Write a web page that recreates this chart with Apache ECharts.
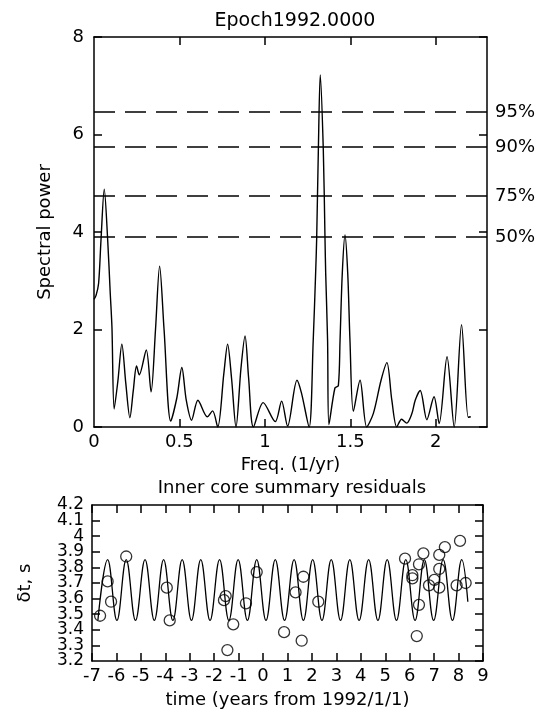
<!DOCTYPE html>
<html>
<head>
<meta charset="utf-8">
<script src="https://cdn.jsdelivr.net/npm/echarts@6/dist/echarts.min.js"></script>
<style>
html,body{margin:0;padding:0;background:#fff;}
#chart{width:544px;height:713px;}
</style>
</head>
<body>
<div id="chart"></div>
<script>
// ---- Top panel: spectral power vs frequency ----
const freqs = [0.000,0.012,0.027,0.041,0.060,0.080,0.095,0.105,0.118,0.140,0.163,0.186,0.210,0.230,0.249,0.265,0.306,0.334,0.360,0.384,0.410,0.449,0.485,0.514,0.540,0.571,0.608,0.663,0.694,0.724,0.760,0.782,0.805,0.831,0.860,0.884,0.905,0.933,0.990,1.061,1.098,1.133,1.188,1.214,1.259,1.283,1.297,1.303,1.313,1.324,1.342,1.352,1.356,1.367,1.375,1.410,1.430,1.440,1.453,1.469,1.485,1.498,1.518,1.557,1.596,1.635,1.680,1.714,1.743,1.772,1.800,1.830,1.860,1.880,1.909,1.948,1.990,2.020,2.066,2.108,2.151,2.190,2.205];
const power = [2.62,2.70,2.95,3.84,4.88,3.84,2.75,2.05,0.37,0.95,1.70,0.90,0.19,0.75,1.25,1.07,1.58,0.72,2.00,3.30,2.00,0.12,0.60,1.22,0.55,0.14,0.55,0.21,0.33,0.00,1.10,1.70,1.00,0.00,1.20,1.87,1.00,0.00,0.50,0.11,0.53,0.02,0.96,0.70,0.00,1.78,3.15,3.84,5.68,7.22,5.68,3.84,3.15,1.78,0.05,0.80,0.85,1.78,3.15,3.94,3.15,1.78,0.32,0.96,0.00,0.28,0.96,1.32,0.55,0.00,0.16,0.08,0.27,0.55,0.75,0.15,0.62,0.07,1.44,0.00,2.10,0.20,0.21];
const sigLevels = [6.46, 5.74, 4.74, 3.90];
const sigLabels = ['95%', '90%', '75%', '50%'];
const freqTicks = [0, 0.5, 1, 1.5, 2];

// ---- Bottom panel: residuals and fitted oscillation ----
const sineTimes = [-6.76,-6.36,-5.98,-5.60,-5.22,-4.83,-4.45,-4.07,-3.69,-3.31,-2.93,-2.55,-2.17,-1.78,-1.40,-1.02,-0.64,-0.26,0.12,0.50,0.88,1.27,1.65,2.03,2.41,2.79,3.17,3.55,3.93,4.32,4.70,5.08,5.46,5.84,6.22,6.60,6.98,7.37,7.75,8.13,8.38];
const sineValues = [3.46,3.85,3.46,3.85,3.46,3.85,3.46,3.85,3.46,3.85,3.46,3.85,3.46,3.85,3.46,3.85,3.46,3.85,3.46,3.85,3.46,3.85,3.46,3.85,3.46,3.85,3.46,3.85,3.46,3.85,3.46,3.85,3.46,3.85,3.46,3.85,3.46,3.85,3.46,3.85,3.58];
const obsTimes = [-6.67,-6.36,-6.22,-5.60,-3.94,-3.82,-1.53,-1.60,-1.22,-1.46,-0.70,-0.26,0.86,1.33,1.65,1.58,2.26,5.81,6.11,6.11,6.38,6.56,6.38,6.29,6.79,7.01,7.21,7.21,7.21,7.44,8.06,7.92,8.29];
const obsValues = [3.49,3.71,3.58,3.87,3.67,3.46,3.616,3.59,3.435,3.27,3.57,3.77,3.385,3.64,3.74,3.33,3.58,3.856,3.75,3.73,3.82,3.89,3.56,3.36,3.685,3.72,3.88,3.79,3.67,3.93,3.97,3.685,3.70];
const residEnds = [3.2, 4.2];

const FONT = 'DejaVu Sans';
const BLACK = '#000';

function zip(a, b) { return a.map((v, i) => [v, b[i]]); }

const chart = echarts.init(document.getElementById('chart'), null, {renderer: 'canvas'});

const axisLineStyle = {show: true, onZero: false, lineStyle: {color: BLACK, width: 1.5}};
const tickStyle = {show: true, inside: true, length: 8, lineStyle: {color: BLACK, width: 1.5}};
const labelStyle = {color: BLACK, fontFamily: FONT, fontSize: 18};
const fmt1 = v => String(Math.round(v * 10) / 10);

const option = {
  backgroundColor: '#fff',
  animation: false,
  title: [
    {text: 'Epoch1992.0000', left: 290, top: 7, textAlign: 'center',
     textStyle: {fontFamily: FONT, fontSize: 19, fontWeight: 'normal', color: BLACK}},
    {text: 'Inner core summary residuals', left: 287, top: 474, textAlign: 'center',
     textStyle: {fontFamily: FONT, fontSize: 18, fontWeight: 'normal', color: BLACK}}
  ],
  grid: [
    {left: 94, top: 37, width: 393, height: 390},
    {left: 92, top: 505, width: 391, height: 156}
  ],
  xAxis: [
    {type: 'value', gridIndex: 0, min: 0, max: 2.3, position: 'bottom',
     axisLine: axisLineStyle,
     axisTick: Object.assign({}, tickStyle, {customValues: freqTicks.slice(1)}),
     axisLabel: Object.assign({}, labelStyle, {margin: 6, customValues: freqTicks}),
     splitLine: {show: false},
     name: 'Freq. (1/yr)', nameLocation: 'middle', nameGap: 25,
     nameTextStyle: {fontFamily: FONT, fontSize: 18, color: BLACK}},
    {type: 'value', gridIndex: 0, min: 0, max: 2.3, position: 'top',
     axisLine: axisLineStyle,
     axisTick: Object.assign({}, tickStyle, {customValues: freqTicks.slice(1)}),
     axisLabel: {show: false}, splitLine: {show: false}},
    {type: 'value', gridIndex: 1, min: -7, max: 9, interval: 1, position: 'bottom',
     axisLine: axisLineStyle, axisTick: tickStyle,
     axisLabel: Object.assign({}, labelStyle, {margin: 6, fontSize: 18, showMinLabel: true, showMaxLabel: true}),
     splitLine: {show: false},
     name: 'time (years from 1992/1/1)', nameLocation: 'middle', nameGap: 30,
     nameTextStyle: {fontFamily: FONT, fontSize: 18, color: BLACK}},
    {type: 'value', gridIndex: 1, min: -7, max: 9, interval: 1, position: 'top',
     axisLine: axisLineStyle, axisTick: tickStyle,
     axisLabel: {show: false}, splitLine: {show: false}}
  ],
  yAxis: [
    {type: 'value', gridIndex: 0, min: 0, max: 8, interval: 2, position: 'left',
     axisLine: axisLineStyle, axisTick: tickStyle,
     axisLabel: Object.assign({}, labelStyle, {margin: 10}),
     splitLine: {show: false},
     name: 'Spectral power', nameLocation: 'middle', nameGap: 40, nameRotate: 90,
     nameTextStyle: {fontFamily: FONT, fontSize: 18, color: BLACK}},
    {type: 'value', gridIndex: 0, min: 0, max: 8, interval: 2, position: 'right',
     axisLine: axisLineStyle, axisTick: tickStyle,
     axisLabel: {show: false}, splitLine: {show: false}},
    {type: 'value', gridIndex: 1, min: 3.2, max: 4.2, interval: 0.1, position: 'left',
     axisLine: axisLineStyle, axisTick: tickStyle,
     axisLabel: Object.assign({}, labelStyle, {margin: 8, fontSize: 17,
       showMinLabel: false, showMaxLabel: false, formatter: fmt1}),
     splitLine: {show: false},
     name: 'δt, s', nameLocation: 'middle', nameGap: 58, nameRotate: 90,
     nameTextStyle: {fontFamily: FONT, fontSize: 18, color: BLACK}},
    {type: 'value', gridIndex: 1, min: 3.2, max: 4.2, interval: 0.1, position: 'right',
     axisLine: axisLineStyle, axisTick: tickStyle,
     axisLabel: {show: false}, splitLine: {show: false}},
    {type: 'value', gridIndex: 1, min: 3.2, max: 4.2, position: 'left',
     axisLine: {show: false}, axisTick: {show: false},
     axisLabel: Object.assign({}, labelStyle, {margin: 8, fontSize: 17,
       customValues: residEnds, formatter: fmt1}),
     splitLine: {show: false}}
  ],
  series: [
    {type: 'line', xAxisIndex: 0, yAxisIndex: 0, data: zip(freqs, power),
     smooth: 0.3, showSymbol: false, symbol: 'none',
     lineStyle: {color: BLACK, width: 1.4},
     markLine: {
       silent: true, symbol: 'none',
       lineStyle: {color: BLACK, width: 1.6, type: [21, 10]},
       label: {show: true, position: 'end', distance: 8, color: BLACK, fontFamily: FONT, fontSize: 18,
               formatter: p => sigLabels[sigLevels.indexOf(p.value)]},
       data: sigLevels.map(v => ({yAxis: v}))
     }},
    {type: 'line', xAxisIndex: 2, yAxisIndex: 2, data: zip(sineTimes, sineValues),
     smooth: 0.4, showSymbol: false, symbol: 'none',
     lineStyle: {color: BLACK, width: 1.3}},
    {type: 'scatter', xAxisIndex: 2, yAxisIndex: 2, data: zip(obsTimes, obsValues),
     symbol: 'circle', symbolSize: 11,
     itemStyle: {color: 'rgba(0,0,0,0)', borderColor: BLACK, borderWidth: 1.3}}
  ]
};
chart.setOption(option);
</script>
</body>
</html>
